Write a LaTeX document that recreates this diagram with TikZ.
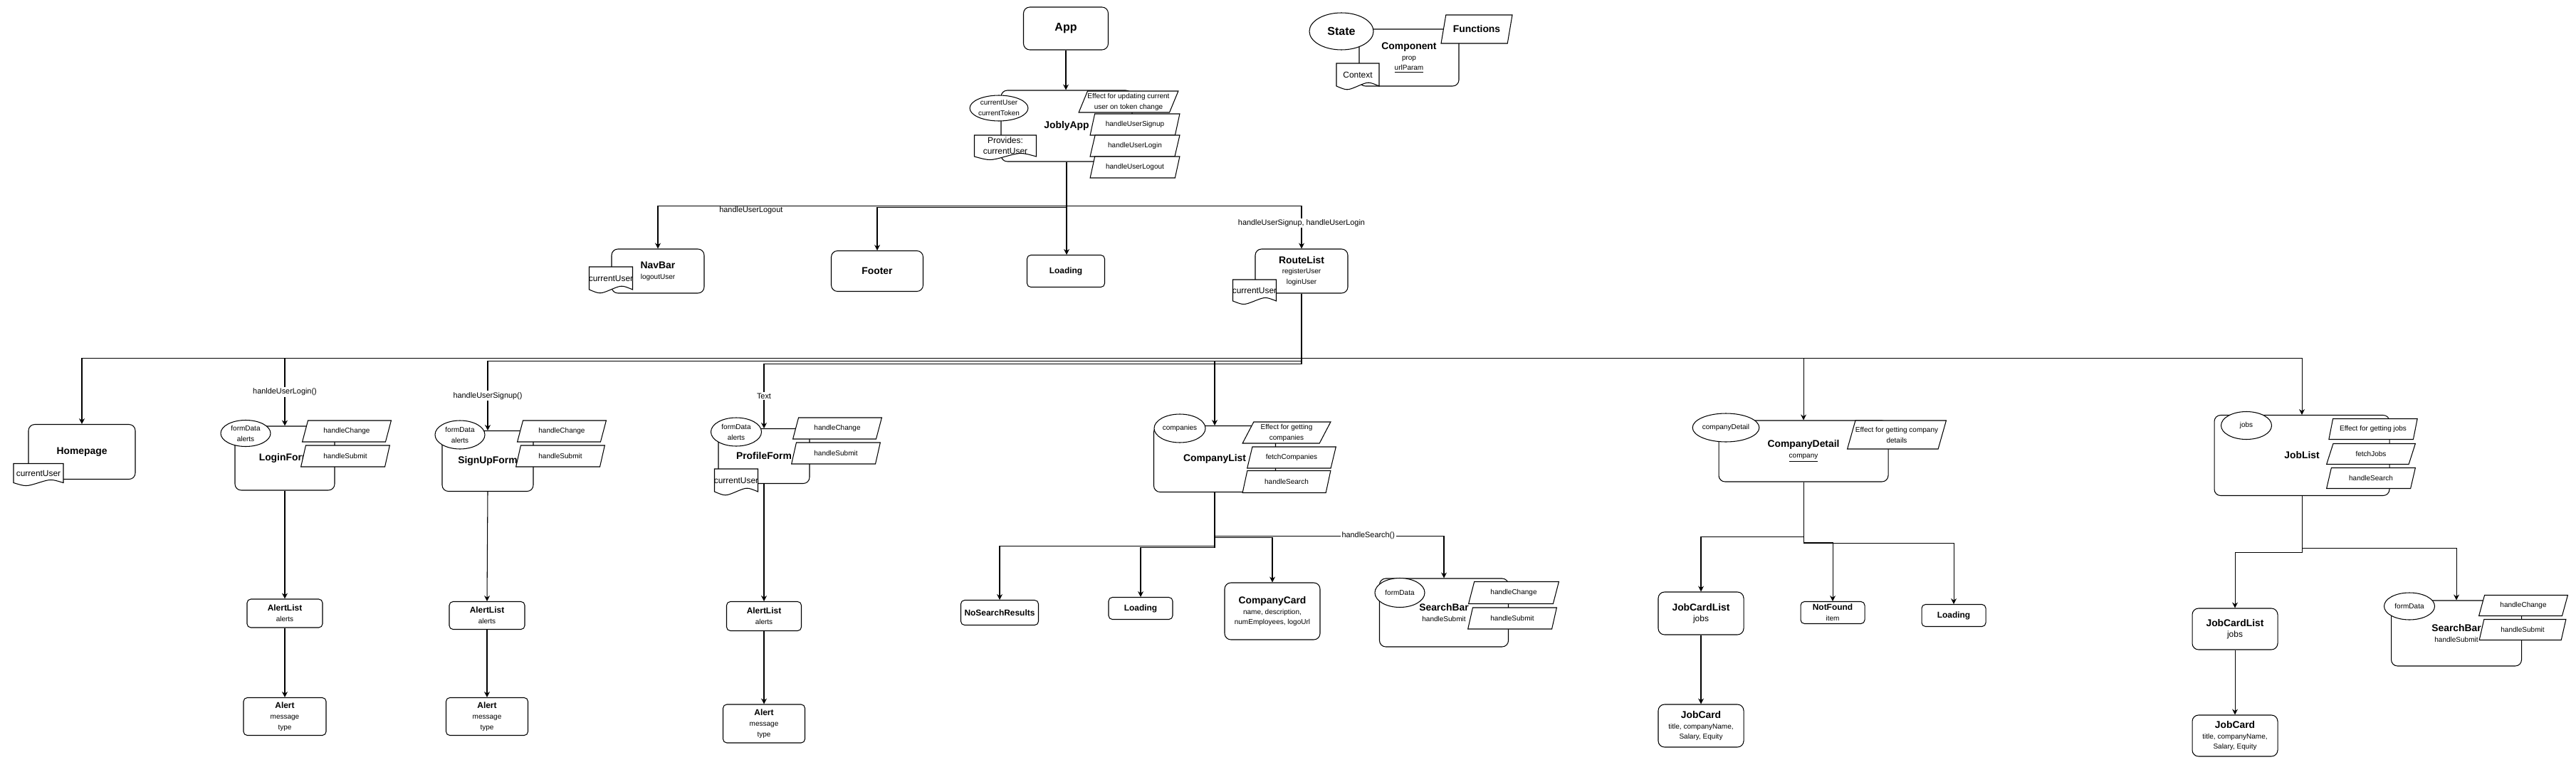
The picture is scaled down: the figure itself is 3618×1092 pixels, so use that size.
\documentclass[tikz,border=0pt]{standalone}
\usepackage{fontspec}
\setmainfont{Liberation Sans}
\usetikzlibrary{arrows.meta,shapes.geometric}
\newcommand{\bigf}{\fontsize{9.1}{11}\selectfont\bfseries}
\newcommand{\ttlf}{\fontsize{7.9}{9.5}\selectfont\bfseries}
\newcommand{\subf}{\fontsize{6.8}{8.5}\selectfont\bfseries}
\newcommand{\midf}{\fontsize{6.8}{8.5}\selectfont}
\newcommand{\smlf}{\fontsize{5.7}{8.5}\selectfont}
\newcommand{\lblf}{\fontsize{6.2}{7.5}\selectfont}
\tikzset{
  cbox/.style={draw,line width=0.6pt,fill=white,rounded corners=5pt,align=center,font=\smlf,inner sep=1pt},
  leafbox/.style={cbox,rounded corners=3pt},
  stbox/.style={draw,line width=0.6pt,fill=white,ellipse,inner sep=0pt,align=center,font=\smlf},
  fnbox/.style={draw,line width=0.6pt,fill=white,trapezium,trapezium left angle=63,trapezium right angle=117,trapezium stretches,inner sep=0pt,align=center,font=\smlf},
  doctext/.style={inner sep=0pt,align=center,font=\midf},
  sz/.style 2 args={minimum width=#1*0.02cm,minimum height=#2*0.02cm},
  arr/.style={line width=0.6pt,-{Stealth[length=4.5pt,width=4.5pt]}},
  elbl/.style={font=\lblf,fill=white,inner sep=1pt},
}
% document shape: name, x, y, width, height, text
\newcommand{\docshape}[6]{%
  \draw[line width=0.6pt,fill=white] ({#2-#4/2},{#3+#5/2}) -- ({#2-#4/2},{#3-#5/2}) -- ({#2+#4/2},{#3-#5/2}) -- ({#2+#4/2},{#3+#5/2})
    .. controls ({#2+#4/4},{#3+#5/2-0.2*#5}) .. (#2,{#3+#5/2})
    .. controls ({#2-#4/4},{#3+#5/2+0.2*#5}) .. ({#2-#4/2},{#3+#5/2}) -- cycle;
  \node[doctext] (#1) at (#2,#3) {#6};}
\begin{document}
\begin{tikzpicture}[x=0.02cm,y=-0.02cm]
\useasboundingbox (0,0) rectangle (3618,1092);
% legend
\node[cbox,sz={140}{80}] (comp) at (1979,81) {{\ttlf Component}\\prop\\\underline{urlParam}};
\node[stbox,sz={90}{52},font=\bigf] (state) at (1884,44) {State};
\node[fnbox,sz={100}{40},font=\ttlf] (funcs) at (2074,41) {Functions};
\docshape{ctx}{1907}{105}{60}{32}{Context}
% app
\node[cbox,sz={119}{60},font=\bigf] (app) at (1497,40) {App};
\node[cbox,sz={184}{100},font=\ttlf] (jobly) at (1498,177) {JoblyApp};
\node[stbox,sz={68}{36}] (joblyst) at (1403,152) {currentUser\\currentToken};
\node[fnbox,sz={124}{30}] (joblyeff) at (1585,143) {Effect for updating current\\user on token change};
\node[fnbox,sz={126}{30}] (hsignup) at (1594,175) {handleUserSignup};
\node[fnbox,sz={126}{30}] (hlogin) at (1594,205) {handleUserLogin};
\node[fnbox,sz={126}{30}] (hlogout) at (1594,235) {handleUserLogout};
\docshape{provides}{1412}{205}{87}{30}{Provides:\\currentUser}
\node[cbox,sz={130}{62}] (navbar) at (924,381) {{\ttlf NavBar}\\logoutUser};
\docshape{navuser}{858}{391}{61}{32}{currentUser}
\node[cbox,sz={129}{57},font=\ttlf] (footer) at (1232,381) {Footer};
\node[leafbox,sz={109}{45},font=\subf] (loadapp) at (1497,381) {Loading};
\node[cbox,sz={130}{62}] (routes) at (1828,381) {{\ttlf RouteList}\\registerUser\\loginUser};
\docshape{rluser}{1762}{408}{61}{30}{currentUser}
% routes
\node[cbox,sz={150}{77},font=\ttlf] (home) at (115,635) {Homepage};
\docshape{homeuser}{54}{665}{70}{27}{currentUser}
\node[cbox,sz={140}{90},font=\ttlf] (login) at (400,644) {LoginForm};
\node[stbox,sz={70}{37}] (loginst) at (345,609) {formData\\alerts};
\node[fnbox,sz={125}{30}] (loginhc) at (487,606) {handleChange};
\node[fnbox,sz={125}{30}] (loginhs) at (485,641) {handleSubmit};
\node[leafbox,sz={106}{40}] (alist1) at (400,862) {{\subf AlertList}\\alerts};
\node[leafbox,sz={116}{53}] (alert1) at (400,1007) {{\subf Alert}\\message\\type};
\node[cbox,sz={128}{85},font=\ttlf] (signup) at (685,648) {SignUpForm};
\node[stbox,sz={70}{40}] (signupst) at (646,611) {formData\\alerts};
\node[fnbox,sz={125}{30}] (signuphc) at (789,606) {handleChange};
\node[fnbox,sz={125}{30}] (signuphs) at (787,641) {handleSubmit};
\node[leafbox,sz={106}{39}] (alist2) at (684,865) {{\subf AlertList}\\alerts};
\node[leafbox,sz={115}{53}] (alert2) at (684,1007) {{\subf Alert}\\message\\type};
\node[cbox,sz={128}{77},font=\ttlf] (profile) at (1073,641) {ProfileForm};
\node[stbox,sz={71}{40}] (profilest) at (1034,607) {formData\\alerts};
\node[fnbox,sz={125}{30}] (profilehc) at (1176,602) {handleChange};
\node[fnbox,sz={125}{30}] (profilehs) at (1174,637) {handleSubmit};
\docshape{profuser}{1034}{675}{61}{32}{currentUser}
\node[leafbox,sz={105}{41}] (alist3) at (1073,866) {{\subf AlertList}\\alerts};
\node[leafbox,sz={115}{54}] (alert3) at (1073,1017) {{\subf Alert}\\message\\type};
% companies
\node[cbox,sz={171}{93},font=\ttlf] (complist) at (1706,645) {CompanyList};
\node[stbox,sz={72}{40}] (compst) at (1657,602) {companies};
\node[fnbox,sz={124}{30}] (compeff) at (1807,608) {Effect for getting\\companies};
\node[fnbox,sz={125}{30}] (compfetch) at (1814,643) {fetchCompanies};
\node[fnbox,sz={124}{31}] (compsearch) at (1807,677) {handleSearch};
\node[leafbox,sz={109}{35},font=\subf] (nosearch) at (1404,861) {NoSearchResults};
\node[leafbox,sz={90}{31},font=\subf] (loadcl) at (1602,855) {Loading};
\node[cbox,sz={134}{80}] (compcard) at (1787,859) {{\ttlf CompanyCard}\\name, description,\\numEmployees, logoUrl};
\node[cbox,sz={181}{96}] (searchcl) at (2028,861) {{\ttlf SearchBar}\\handleSubmit};
\node[stbox,sz={70}{41}] (searchclst) at (1966,833) {formData};
\node[fnbox,sz={127}{31}] (searchclhc) at (2126,833) {handleChange};
\node[fnbox,sz={125}{30}] (searchclhs) at (2124,869) {handleSubmit};
\node[cbox,sz={238}{86}] (compdetail) at (2533,634) {{\ttlf CompanyDetail}\\\underline{company}};
\node[stbox,sz={70}{40}] (detailst) at (2424,601) {companyDetail};
\node[fnbox,sz={130}{40}] (detaileff) at (2664,611) {Effect for getting company\\details};
\node[cbox,sz={120}{60}] (jcl1) at (2389,862) {{\ttlf JobCardList}\\{\midf jobs}};
\node[cbox,sz={120}{60}] (jc1) at (2389,1020) {{\ttlf JobCard}\\title, companyName,\\Salary, Equity};
\node[leafbox,sz={90}{31}] (notfound) at (2574,861) {{\subf NotFound}\\item};
\node[leafbox,sz={90}{31},font=\subf] (loadcd) at (2744,865) {Loading};
% jobs
\node[cbox,sz={246}{113},font=\ttlf] (joblist) at (3233,640) {JobList};
\node[stbox,sz={71}{39}] (jobsst) at (3155,598) {jobs};
\node[fnbox,sz={125}{29}] (jobseff) at (3333,603) {Effect for getting jobs};
\node[fnbox,sz={125}{29}] (jobsfetch) at (3330,638) {fetchJobs};
\node[fnbox,sz={125}{29}] (jobssearch) at (3330,672) {handleSearch};
\node[cbox,sz={120}{58}] (jcl2) at (3139,884) {{\ttlf JobCardList}\\{\midf jobs}};
\node[cbox,sz={120}{58}] (jc2) at (3139,1034) {{\ttlf JobCard}\\title, companyName,\\Salary, Equity};
\node[cbox,sz={183}{92}] (searchjl) at (3450,890) {{\ttlf SearchBar}\\handleSubmit};
\node[stbox,sz={71}{38}] (searchjlst) at (3384,852) {formData};
\node[fnbox,sz={125}{29}] (searchjlhc) at (3544,851) {handleChange};
\node[fnbox,sz={122}{29}] (searchjlhs) at (3543,885) {handleSubmit};
% connectors
\draw[arr] (app.south) -- (app.south |- jobly.north);
\draw[arr] (jobly.south) -- ++(0,62) -| node[font=\lblf,inner sep=0.5pt,anchor=north,pos=0.386] (lbllogout) {handleUserLogout} (navbar.north);
\draw[arr] (jobly.south) -- ++(0,64) -| (footer.north);
\draw[arr] (jobly.south) -- (jobly.south |- loadapp.north);
\draw[arr] (jobly.south) -- ++(0,62) -| node[elbl,pos=0.7] (lblroutes) {handleUserSignup, handleUserLogin} (routes.north);
\draw[arr] (routes.south) -- ++(0,91) -| (home.north);
\draw[arr] (routes.south) -- ++(0,91) -| node[elbl,pos=0.75] (lbllogin) {hanldeUserLogin()} (login.north);
\draw[arr] (routes.south) -- ++(0,95) -| node[elbl,pos=0.75] (lblsignup) {handleUserSignup()} (signup.north);
\draw[arr] (routes.south) -- ++(0,99) -| node[elbl,pos=0.75] (lbltext) {Text} (profile.north);
\draw[arr] (routes.south) -- ++(0,95) -| (complist.north);
\draw[arr] (routes.south) -- ++(0,91) -| (compdetail.north);
\draw[arr] (routes.south) -- ++(0,91) -| (joblist.north);
\draw[arr] (login.south) -- (alist1.north);
\draw[arr] (alist1.south) -- (alert1.north);
\draw[arr] (signup.south) -- (alist2.north);
\draw[arr] (alist2.south) -- (alert2.north);
\draw[arr] (profile.south) -- (alist3.north);
\draw[arr] (alist3.south) -- (alert3.north);
\draw[arr] (complist.south) -- ++(0,75) -| (nosearch.north);
\draw[arr] (complist.south) -- ++(0,77) -| (loadcl.north);
\draw[arr] (complist.south) -- ++(0,63) -| (compcard.north);
\draw[arr] (complist.south) -- ++(0,61) -| node[elbl,pos=0.335] (lblsearch) {handleSearch()} (searchcl.north);
\draw[arr] (compdetail.south) -- ++(0,77) -| (jcl1.north);
\draw[arr] (compdetail.south) -- ++(0,85) -| (notfound.north);
\draw[arr] (compdetail.south) -- ++(0,86) -| (loadcd.north);
\draw[arr] (jcl1.south) -- (jc1.north);
\draw[arr] (joblist.south) -- ++(0,79) -| (jcl2.north);
\draw[arr] (joblist.south) -- ++(0,73) -| (searchjl.north);
\draw[arr] (jcl2.south) -- (jc2.north);
\end{tikzpicture}
\end{document}
